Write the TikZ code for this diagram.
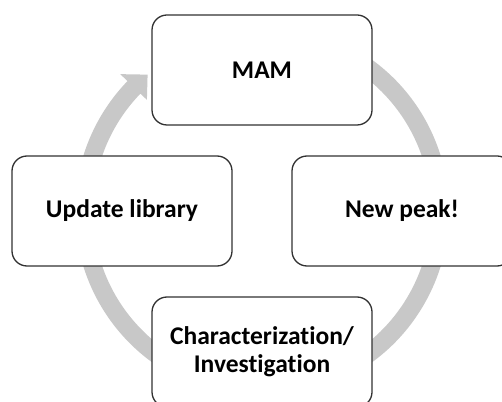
\documentclass[tikz,border=0pt]{standalone}
\usepackage{fontspec}
\setmainfont[Ligatures=CommonOff]{Carlito}
\definecolor{ringgray}{RGB}{200,200,200}
\definecolor{boxline}{RGB}{50,50,50}
\tikzset{
  cyclebox/.style={draw=boxline, line width=1.3pt, fill=white, rounded corners=15pt,
    minimum width=220pt, minimum height=110pt, align=center,
    font=\fontsize{25.5}{28}\selectfont\bfseries, text=black}
}
\begin{document}
\begin{tikzpicture}[x=1pt,y=1pt]
\useasboundingbox (0,0) rectangle (502,401);
\clip (0,0) rectangle (502,401);
\fill[white] (0,0) rectangle (502,401);
\begin{scope}[shift={(262,190)}]
  \fill[ringgray] (60:187pt) arc[start angle=60, end angle=-224, radius=187pt]
    -- (-224:197pt) -- (-230:178pt) -- (-224:160pt) -- (-224:169pt)
    arc[start angle=-224, end angle=60, radius=169pt] -- cycle;
\end{scope}
\node[cyclebox] (mam) at (262,331) {MAM};
\node[cyclebox] (upd) at (122,190) {Update library};
\node[cyclebox] (new) at (402,190) {New peak!};
\node[cyclebox] (chr) at (262,49) {Characterization/\\Investigation};
\end{tikzpicture}
\end{document}
